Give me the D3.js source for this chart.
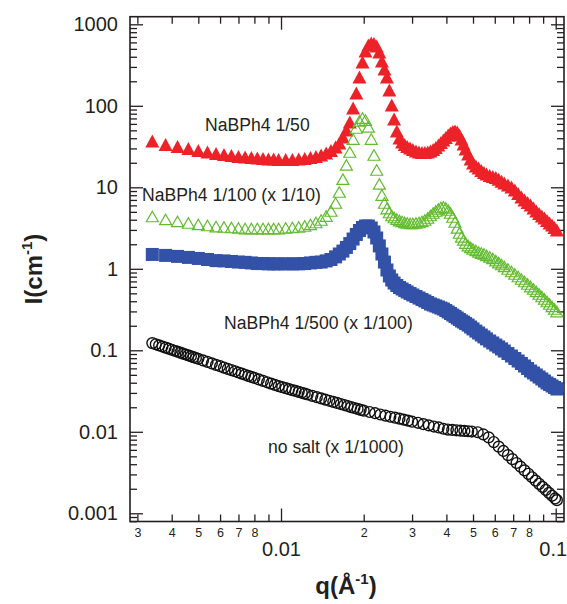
<!DOCTYPE html>
<html>
<head>
<meta charset="utf-8">
<script src="https://cdn.jsdelivr.net/npm/d3@7"></script>
<style>
  body { margin: 0; background: #fff; }
  svg { display: block; }
</style>
</head>
<body>
<svg id="chart" width="567" height="604"></svg>
<script>
// Scattering vector q (1/Å) shared by the three NaBPh4 samples
const qSalt = [0.0034,0.0038,0.0042,0.0046,0.0050,0.0054,0.0058,0.0062,0.0066,0.0070,
  0.0074,0.0078,0.0082,0.0086,0.0090,0.0094,0.0098,0.0104,0.0110,0.0116,
  0.0122,0.0128,0.0134,0.0140,0.0146,0.0152,0.0158,0.0163,0.0168,0.0173,
  0.0178,0.0183,0.0188,0.0193,0.0198,0.0203,0.0208,0.0213,0.0218,0.0223,
  0.0228,0.0233,0.0238,0.0243,0.0248,0.0253,0.0258,0.0264,0.0270,0.0276,
  0.0282,0.0288,0.0295,0.0302,0.0310,0.0318,0.0326,0.0334,0.0342,0.0350,
  0.0358,0.0366,0.0374,0.0382,0.0390,0.0398,0.0406,0.0414,0.0422,0.0430,
  0.0438,0.0446,0.0454,0.0462,0.0470,0.0480,0.0490,0.0500,0.0512,0.0524,
  0.0536,0.0548,0.0560,0.0575,0.0590,0.0605,0.0620,0.0635,0.0650,0.0670,
  0.0690,0.0710,0.0730,0.0750,0.0770,0.0790,0.0810,0.0830,0.0850,0.0870,
  0.0890,0.0910,0.0930,0.0950,0.0970,0.0990,0.1010];

// I(q) in cm^-1, NaBPh4 1/50
const iSalt50 = [37.0,33.5,31.7,29.9,28.3,27.1,26.0,25.3,24.6,23.9,
  23.5,23.2,22.9,22.6,22.2,22.2,21.9,21.9,21.9,22.2,
  22.6,23.2,23.9,24.9,26.4,28.3,31.2,35.0,41.4,50.5,
  63.3,94.0,144,226,345,470,557,590,581,542,
  457,355,283,226,156,102,68.9,49.1,40.3,36.0,
  33.5,31.7,30.4,29.1,27.9,27.1,26.7,26.7,27.1,27.9,
  29.1,30.8,33.0,35.5,38.1,40.8,43.8,46.4,48.4,49.1,
  47.7,43.8,39.1,34.0,29.5,25.6,22.2,19.9,18.2,17.3,
  16.1,15.2,14.6,14.0,13.6,13.2,12.6,11.9,11.3,10.7,
  10.1,9.27,8.39,7.60,6.99,6.51,6.07,5.57,5.12,4.77,
  4.44,4.20,3.91,3.65,3.45,3.21,2.99];

// NaBPh4 1/100, scaled by 1/10
const iSalt100 = [4.38,4.03,3.81,3.65,3.50,3.40,3.30,3.26,3.21,3.17,
  3.12,3.12,3.12,3.12,3.12,3.12,3.12,3.17,3.21,3.26,
  3.35,3.50,3.70,3.97,4.44,5.12,6.42,8.76,12.6,18.8,
  27.1,39.1,53.4,65.1,70.8,66.9,55.0,39.1,24.9,16.3,
  11.0,8.04,6.42,5.49,4.91,4.51,4.26,4.08,3.91,3.81,
  3.70,3.65,3.60,3.60,3.65,3.70,3.81,3.97,4.20,4.51,
  4.84,5.12,5.42,5.65,5.73,5.57,5.27,4.84,4.32,3.75,
  3.17,2.75,2.46,2.26,2.07,1.93,1.83,1.75,1.68,1.61,
  1.56,1.52,1.46,1.40,1.34,1.26,1.19,1.13,1.07,0.994,
  0.927,0.864,0.804,0.750,0.699,0.651,0.606,0.565,0.527,0.491,
  0.457,0.426,0.397,0.370,0.345,0.321,0.299];

// NaBPh4 1/500, scaled by 1/100
const iSalt500 = [1.50,1.46,1.42,1.38,1.34,1.30,1.26,1.25,1.23,1.21,
  1.20,1.18,1.16,1.16,1.15,1.15,1.15,1.15,1.15,1.15,
  1.16,1.18,1.20,1.21,1.25,1.30,1.40,1.52,1.65,1.83,
  2.04,2.32,2.64,2.95,3.21,3.35,3.35,3.17,2.83,2.39,
  1.91,1.52,1.21,0.967,0.816,0.729,0.669,0.624,0.590,0.565,
  0.542,0.519,0.498,0.477,0.457,0.438,0.420,0.403,0.386,0.370,
  0.360,0.350,0.340,0.330,0.321,0.308,0.295,0.283,0.271,0.260,
  0.249,0.239,0.229,0.222,0.213,0.204,0.193,0.183,0.172,0.163,
  0.154,0.146,0.138,0.130,0.123,0.116,0.110,0.104,0.0980,0.0913,
  0.0851,0.0793,0.0739,0.0689,0.0642,0.0598,0.0557,0.0527,0.0498,0.0470,
  0.0445,0.0420,0.0397,0.0381,0.0365,0.0350,0.0335];

// Salt-free sample, scaled by 1/1000
const qNoSalt = [0.0034,0.0035,0.0036,0.0037,0.0038,0.0039,0.0040,0.0041,0.0042,0.0043,
  0.0044,0.0045,0.0046,0.0047,0.0048,0.0049,0.0050,
  0.0052,0.0054,0.0056,0.0058,0.0060,0.0062,0.0064,0.0066,0.0068,0.0070,
  0.0072,0.0074,0.0076,0.0078,0.0080,
  0.0083,0.0086,0.0089,0.0092,0.0095,0.0098,0.0101,0.0104,0.0107,0.0110,
  0.0113,0.0116,0.0119,0.0122,0.0125,
  0.0130,0.0135,0.0140,0.0145,0.0150,0.0155,0.0160,0.0165,0.0170,0.0175,
  0.0180,0.0185,0.0190,0.0195,0.0200,
  0.021,0.022,0.023,0.024,0.025,0.026,0.027,0.028,0.029,0.030,
  0.0315,0.0330,0.0345,0.0360,0.0375,0.0390,0.0405,0.0420,0.0435,0.0450,
  0.0465,0.0480,0.0495,
  0.0520,0.0545,0.0570,0.0595,0.0620,0.0645,0.0670,0.0695,0.0720,0.0745,
  0.0770,0.0795,0.0820,0.0845,0.0870,0.0895,0.0920,0.0945,0.0970,0.0995,0.1010];
const iNoSalt = [0.1225,0.1185,0.1148,0.1112,0.1078,0.1046,0.1016,0.0988,0.0961,0.0935,
  0.0911,0.0888,0.0866,0.0844,0.0824,0.0805,0.0787,
  0.0752,0.0720,0.0690,0.0663,0.0638,0.0614,0.0592,0.0572,0.0553,0.0534,
  0.0517,0.0501,0.0486,0.0472,0.0458,
  0.0439,0.0422,0.0405,0.0390,0.0376,0.0363,0.0353,0.0343,0.0334,0.0325,
  0.0317,0.0309,0.0301,0.0294,0.0287,
  0.0276,0.0266,0.0257,0.0248,0.0240,0.0233,0.0226,0.0219,0.0213,0.0207,
  0.0201,0.0196,0.0191,0.0186,0.0182,
  0.0175,0.0169,0.0163,0.0158,0.0153,0.0149,0.0145,0.0141,0.0137,0.0133,
  0.0129,0.0124,0.0120,0.0116,0.0113,0.0109,0.01065,0.01054,0.01043,0.01034,
  0.01024,0.01015,0.01007,
  0.00987,0.00928,0.00855,0.00748,0.00658,0.00582,0.00518,0.00462,0.00414,0.00373,
  0.00336,0.00305,0.00277,0.00252,0.00230,0.00211,0.00194,0.00178,0.00164,0.00152,0.00145];

// Axis ticks and labels
const yMajorTicks = [0.001, 0.01, 0.1, 1, 10, 100, 1000];
const yMajorLabels = ["0.001", "0.01", "0.1", "1", "10", "100", "1000"];
const xMajorTicks = [0.01, 0.1];
const xMajorLabels = ["0.01", "0.1"];
const xMinorTicks = [0.003,0.004,0.005,0.006,0.007,0.008,0.009,0.02,0.03,0.04,0.05,0.06,0.07,0.08,0.09];
const xMinorLabels = ["3","4","5","6","7","8","","2","3","4","5","6","7","8",""];
const seriesNames = ["NaBPh4 1/50", "NaBPh4 1/100 (x 1/10)", "NaBPh4 1/500 (x 1/100)", "no salt (x 1/1000)"];

const svg = d3.select("#chart");
const FONT = "'Liberation Sans', Arial, Helvetica, sans-serif";
const INK = "#231f20";
const plot = { left: 130, right: 564, top: 16.7, bottom: 521.5 };

const x = d3.scaleLog().domain([0.00282, 0.1072]).range([plot.left, plot.right]);
const y = d3.scaleLog().domain([7.93e-4, 1240]).range([plot.bottom, plot.top]);

const yMinorTicks = y.ticks().filter(v => !yMajorTicks.some(m => Math.abs(m - v) / m < 1e-6));

function styleAxis(g, size) {
  g.select(".domain").remove();
  g.attr("color", INK).attr("font-family", FONT).attr("font-size", size);
  g.selectAll(".tick line").attr("stroke-width", 1.3);
  g.selectAll(".tick text").attr("fill", INK);
  return g;
}

// bottom axis
styleAxis(svg.append("g").attr("transform", `translate(0,${plot.bottom})`)
  .call(d3.axisBottom(x).tickValues(xMinorTicks).tickSize(-7).tickPadding(7)
    .tickFormat((d, i) => xMinorLabels[i])), 12.5);
const xMajorAxis = styleAxis(svg.append("g").attr("transform", `translate(0,${plot.bottom})`)
  .call(d3.axisBottom(x).tickValues(xMajorTicks).tickSize(-13).tickPadding(20)
    .tickFormat((d, i) => xMajorLabels[i])), 20);
// keep the last decade label inside the canvas
xMajorAxis.selectAll(".tick text").filter(d => d === 0.1).attr("dx", -3);
// top axis
styleAxis(svg.append("g").attr("transform", `translate(0,${plot.top})`)
  .call(d3.axisTop(x).tickValues(xMinorTicks).tickSize(-7).tickFormat("")), 10);
styleAxis(svg.append("g").attr("transform", `translate(0,${plot.top})`)
  .call(d3.axisTop(x).tickValues(xMajorTicks).tickSize(-13).tickFormat("")), 10);
// left axis
styleAxis(svg.append("g").attr("transform", `translate(${plot.left},0)`)
  .call(d3.axisLeft(y).tickValues(yMajorTicks).tickSize(-13).tickPadding(12)
    .tickFormat((d, i) => yMajorLabels[i])), 20);
styleAxis(svg.append("g").attr("transform", `translate(${plot.left},0)`)
  .call(d3.axisLeft(y).tickValues(yMinorTicks).tickSize(-7).tickFormat("")), 10);
// right axis
styleAxis(svg.append("g").attr("transform", `translate(${plot.right},0)`)
  .call(d3.axisRight(y).tickValues(yMajorTicks).tickSize(-13).tickFormat("")), 10);
styleAxis(svg.append("g").attr("transform", `translate(${plot.right},0)`)
  .call(d3.axisRight(y).tickValues(yMinorTicks).tickSize(-7).tickFormat("")), 10);

// frame
svg.append("rect")
  .attr("x", plot.left).attr("y", plot.top)
  .attr("width", plot.right - plot.left).attr("height", plot.bottom - plot.top)
  .attr("fill", "none").attr("stroke", INK).attr("stroke-width", 1.6);

// markers
const tri = (w, h) => `M0,${-h / 2}L${w / 2},${h / 2}L${-w / 2},${h / 2}Z`;
const toPoints = (qs, vs) => qs.map((q, i) => ({ q, v: vs[i] }));
const marks = svg.append("g");

marks.append("g").selectAll("circle")
  .data(toPoints(qNoSalt, iNoSalt)).join("circle")
  .attr("cx", d => x(d.q)).attr("cy", d => y(d.v)).attr("r", 5.4)
  .attr("fill", "none").attr("stroke", "#111").attr("stroke-width", 1.4);

marks.append("g").selectAll("path")
  .data(toPoints(qSalt, iSalt50)).join("path")
  .attr("d", tri(14, 13))
  .attr("transform", d => `translate(${x(d.q)},${y(d.v)})`)
  .attr("fill", "#ed2229");

marks.append("g").selectAll("path")
  .data(toPoints(qSalt, iSalt100)).join("path")
  .attr("d", tri(12, 10.5))
  .attr("transform", d => `translate(${x(d.q)},${y(d.v)})`)
  .attr("fill", "none").attr("stroke", "#62bb2f").attr("stroke-width", 1.2);

marks.append("g").selectAll("rect")
  .data(toPoints(qSalt, iSalt500)).join("rect")
  .attr("x", d => x(d.q) - 6.5).attr("y", d => y(d.v) - 6.5)
  .attr("width", 13).attr("height", 13)
  .attr("fill", "#3251a7");

// series annotations
const notes = svg.append("g").attr("font-family", FONT).attr("font-size", 17.6).attr("fill", INK);
const notePos = [[205, 131], [142, 201], [224, 329], [268, 453]];
notes.selectAll("text").data(seriesNames).join("text")
  .attr("x", (d, i) => notePos[i][0]).attr("y", (d, i) => notePos[i][1])
  .text(d => d);

// axis titles
const yTitle = svg.append("text")
  .attr("transform", "translate(42,269) rotate(-90)")
  .attr("text-anchor", "middle")
  .attr("font-family", FONT).attr("font-weight", "bold").attr("font-size", 24).attr("fill", INK);
yTitle.append("tspan").text("I(cm");
yTitle.append("tspan").attr("font-size", 15).attr("dy", -10).text("-1");
yTitle.append("tspan").attr("dy", 10).text(")");

const xTitle = svg.append("text")
  .attr("x", 346).attr("y", 594)
  .attr("text-anchor", "middle")
  .attr("font-family", FONT).attr("font-weight", "bold").attr("font-size", 24).attr("fill", INK);
xTitle.append("tspan").text("q(Å");
xTitle.append("tspan").attr("font-size", 15).attr("dy", -10).text("-1");
xTitle.append("tspan").attr("dy", 10).text(")");
</script>
</body>
</html>
